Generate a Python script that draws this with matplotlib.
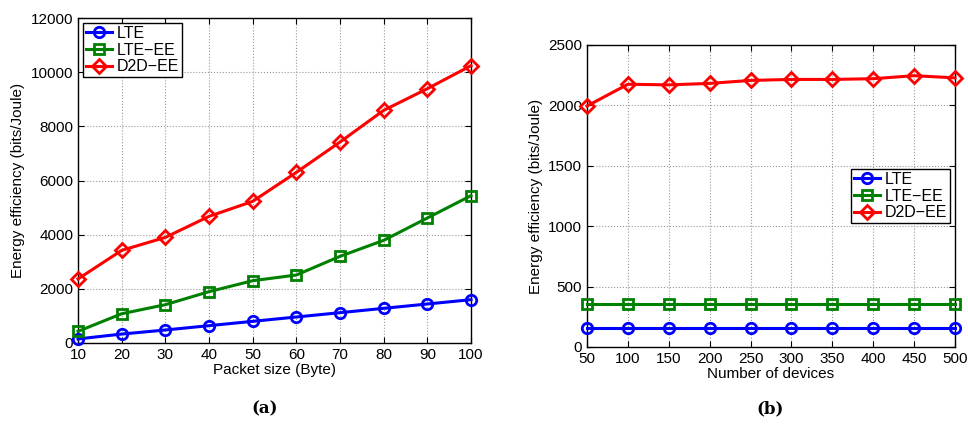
import matplotlib.pyplot as plt

plt.rcParams['font.family'] = ['Liberation Sans Narrow', 'Liberation Sans', 'DejaVu Sans']

# (a) energy efficiency vs packet size
packet_size = [10, 20, 30, 40, 50, 60, 70, 80, 90, 100]
lte_a = [150, 330, 480, 640, 800, 960, 1120, 1280, 1440, 1600]
lte_ee_a = [430, 1080, 1415, 1895, 2300, 2510, 3200, 3790, 4615, 5440]
d2d_ee_a = [2365, 3420, 3900, 4675, 5230, 6300, 7420, 8590, 9390, 10240]

# (b) energy efficiency vs number of devices
devices = [50, 100, 150, 200, 250, 300, 350, 400, 450, 500]
lte_b = [160, 160, 160, 160, 160, 160, 160, 160, 160, 160]
lte_ee_b = [356, 356, 356, 356, 356, 356, 356, 356, 356, 356]
d2d_ee_b = [1995, 2175, 2170, 2182, 2207, 2215, 2215, 2221, 2246, 2228]

labels = ['LTE', 'LTE\u2212EE', 'D2D\u2212EE']
styles = [('#0000ff', 'o'), ('#008000', 's'), ('#ff0000', 'D')]

fig = plt.figure(figsize=(9.68, 4.25), dpi=100)
ax1 = fig.add_axes([78 / 968, 1 - 343 / 425, 393 / 968, 325 / 425])
ax2 = fig.add_axes([587 / 968, 1 - 347 / 425, 368 / 968, 302 / 425])


def draw(ax, x, series):
    for (c, m), y, lab in zip(styles, series, labels):
        ms = 7.5 if m == 'o' else 6.8
        ax.plot(x, y, color=c, marker=m, ms=ms, mfc='none', mew=2,
                lw=2.2, label=lab, clip_on=False, zorder=3)
    ax.grid(True, linestyle=':', color='#999999', lw=0.8)
    ax.tick_params(direction='in', labelsize=11, length=4, top=True, right=True)
    for s in ax.spines.values():
        s.set_linewidth(1.0)


draw(ax1, packet_size, [lte_a, lte_ee_a, d2d_ee_a])
ax1.set_xlim(10, 100)
ax1.set_ylim(0, 12000)
ax1.set_xticks(packet_size)
ax1.set_yticks(range(0, 12001, 2000))
ax1.set_xlabel('Packet size (Byte)', fontsize=11, labelpad=1)
ax1.set_ylabel('Energy efficiency (bits/Joule)', fontsize=11, labelpad=4)
ax1.legend(loc='upper left', fontsize=11.5, fancybox=False, edgecolor='black',
           framealpha=1, borderpad=0.2, labelspacing=0.1, handlelength=1.6,
           handletextpad=0.3, borderaxespad=0.3)

draw(ax2, devices, [lte_b, lte_ee_b, d2d_ee_b])
ax2.set_xlim(50, 500)
ax2.set_ylim(0, 2500)
ax2.set_xticks(devices)
ax2.set_yticks(range(0, 2501, 500))
ax2.set_xlabel('Number of devices', fontsize=11, labelpad=1)
ax2.set_ylabel('Energy efficiency (bits/Joule)', fontsize=11, labelpad=4)
ax2.legend(loc='center right', bbox_to_anchor=(1.0, 0.5), fontsize=11.5,
           fancybox=False, edgecolor='black', framealpha=1, borderpad=0.2,
           labelspacing=0.1, handlelength=1.6, handletextpad=0.3,
           borderaxespad=0.3)

fig.text(265 / 968, 1 - 409 / 425, '(a)', ha='center', va='center',
         fontsize=12, fontweight='bold', family='DejaVu Serif')
fig.text(770 / 968, 1 - 409 / 425, '(b)', ha='center', va='center',
         fontsize=12, fontweight='bold', family='DejaVu Serif')

fig.savefig('out.png', dpi=100)
